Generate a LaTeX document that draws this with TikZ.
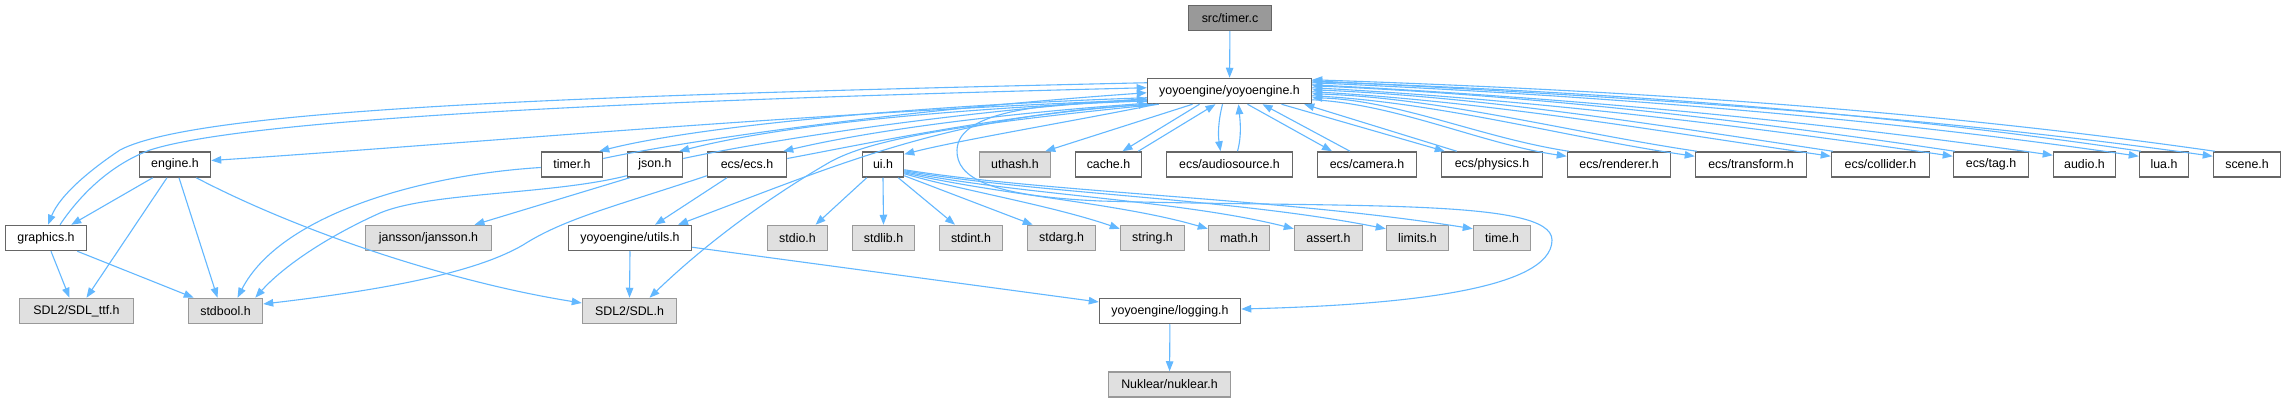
\documentclass[tikz,border=0pt]{standalone}
\usepackage{fontspec}
\setmainfont{Liberation Sans}
\usetikzlibrary{arrows.meta,calc}
\definecolor{edgec}{HTML}{63B8FF}
\definecolor{boxc}{HTML}{666666}
\definecolor{extb}{HTML}{999999}
\definecolor{extf}{HTML}{E0E0E0}
\definecolor{rootf}{HTML}{999999}
\begin{document}
\begin{tikzpicture}[x=1pt,y=-1pt,
  box/.style={draw=boxc, fill=white, line width=1.5pt, minimum height=25pt, inner sep=0pt, font=\fontsize{12.4pt}{14pt}\selectfont},
  ext/.style={box, draw=extb, fill=extf},
  root/.style={box, draw=boxc, fill=rootf},
  e/.style={draw=edgec, line width=1.1pt, -{Triangle[length=10pt,width=7.5pt]}}]
\fill[white] (0,0) rectangle (2286,403);
\useasboundingbox (0,0) rectangle (2286,403);
% row 0/1
\node[root, minimum width=83pt] (timerc) at (1230,18) {src/timer.c};
\node[box, minimum width=164pt] (yoyo) at (1229.5,91) {yoyoengine/yoyoengine.h};
% row 2
\node[box, minimum width=71pt] (engine) at (175,164.5) {engine.h};
\node[box, minimum width=61pt] (timerh) at (572,164.5) {timer.h};
\node[box, minimum width=55pt] (json) at (655,164.5) {json.h};
\node[box, minimum width=79pt] (ecs) at (747,164.5) {ecs/ecs.h};
\node[box, minimum width=41pt] (ui) at (883,164.5) {ui.h};
\node[ext, minimum width=71pt] (uthash) at (1015,164.5) {uthash.h};
\node[box, minimum width=66pt] (cache) at (1108.5,164.5) {cache.h};
\node[box, minimum width=126pt] (audiosource) at (1229.5,164.5) {ecs/audiosource.h};
\node[box, minimum width=99pt] (camera) at (1367,164.5) {ecs/camera.h};
\node[box, minimum width=101pt] (physics) at (1492,164.5) {ecs/physics.h};
\node[box, minimum width=103pt] (renderer) at (1619,164.5) {ecs/renderer.h};
\node[box, minimum width=111pt] (transform) at (1751,164.5) {ecs/transform.h};
\node[box, minimum width=98pt] (collider) at (1880.5,164.5) {ecs/collider.h};
\node[box, minimum width=75pt] (tag) at (1991,164.5) {ecs/tag.h};
\node[box, minimum width=62pt] (audio) at (2084.5,164.5) {audio.h};
\node[box, minimum width=49pt] (lua) at (2164,164.5) {lua.h};
\node[box, minimum width=67pt] (scene) at (2247,164.5) {scene.h};
% row 3
\node[box, minimum width=81pt] (graphics) at (46,238) {graphics.h};
\node[ext, minimum width=126pt] (jansson) at (428.5,238) {jansson/jansson.h};
\node[box, minimum width=123pt] (utils) at (630,238) {yoyoengine/utils.h};
\node[ext, minimum width=60pt] (stdio) at (797.5,238) {stdio.h};
\node[ext, minimum width=62pt] (stdlib) at (883.5,238) {stdlib.h};
\node[ext, minimum width=63pt] (stdint) at (971,238) {stdint.h};
\node[ext, minimum width=68pt] (stdarg) at (1061.5,238) {stdarg.h};
\node[ext, minimum width=64pt] (string) at (1152.5,238) {string.h};
\node[ext, minimum width=61pt] (math) at (1239,238) {math.h};
\node[ext, minimum width=68pt] (assert) at (1328.5,238) {assert.h};
\node[ext, minimum width=62pt] (limits) at (1417.5,238) {limits.h};
\node[ext, minimum width=57pt] (time) at (1502,238) {time.h};
% row 4
\node[ext, minimum width=114pt] (sdlttf) at (76.5,311) {SDL2/SDL\_ttf.h};
\node[ext, minimum width=74pt] (stdbool) at (225.5,311) {stdbool.h};
\node[ext, minimum width=94pt] (sdl) at (629.5,311) {SDL2/SDL.h};
\node[box, minimum width=141pt] (logging) at (1170,311) {yoyoengine/logging.h};
% row 5
\node[ext, minimum width=122pt] (nuklear) at (1169.5,384.5) {Nuklear/nuklear.h};

% ---- edges ----
\draw[e] (timerc) -- (yoyo);
% left side
\draw[e] ($(yoyo.north west)+(0,5)$) .. controls (600,95) and (200,108) .. (120,150) .. controls (90,170) and (60,195) .. ($(graphics.north)+(2,0)$);
\draw[e] ($(graphics.north)+(14,0)$) .. controls (80,195) and (110,165) .. (150,150) .. controls (250,118) and (650,100) .. ($(yoyo.north west)+(0,10)$);
\draw[e] ($(yoyo.north west)+(0,22)$) .. controls (800,113) and (450,145) .. ($(engine.east)+(0,-4)$);
\draw[e] ($(yoyo.north west)+(0,20)$) .. controls (900,106) and (690,128) .. ($(timerh.north east)+(-4,0)$);
\draw[e] ($(timerh.east)+(0,-6)$) .. controls (690,140) and (900,110) .. ($(yoyo.north west)+(0,15)$);
\draw[e] ($(yoyo.north west)+(0,23)$) .. controls (920,110) and (770,128) .. ($(json.north east)+(-4,0)$);
\draw[e] ($(json.east)+(0,-6)$) .. controls (770,140) and (950,112) .. ($(yoyo.north west)+(0,21)$);
\draw[e] ($(yoyo.south west)+(0,-1)$) .. controls (980,115) and (860,133) .. ($(ecs.north east)+(-4,0)$);
\draw[e] ($(ecs.east)+(0,-6)$) .. controls (860,145) and (1000,115) .. ($(yoyo.south west)+(2,0)$);
\draw[e] ($(yoyo.south west)+(10,0)$) .. controls (1080,120) and (960,140) .. ($(ui.north east)+(0,3)$);
\draw[e] ($(yoyo.south west)+(6,0)$) .. controls (950,115) and (850,160) .. ($(utils.north)+(48,0)$);
\draw[e] ($(yoyo.south west)+(12,0)$) .. controls (950,125) and (870,140) .. (830,162) .. controls (790,185) and (720,230) .. ($(sdl.north)+(20,0)$);
\draw[e] ($(yoyo.south west)+(0,-3)$) .. controls (1050,102) and (958,110) .. (957,150) .. controls (956,178) and (990,196) .. (1100,201) .. controls (1350,208) and (1552,198) .. (1552,240) .. controls (1552,290) and (1400,305) .. ($(logging.east)+(0,-2)$);
% bottom side
\draw[e] ($(yoyo.south)+(-37,0)$) -- ($(uthash.north east)+(-6,0)$);
\draw[e] ($(yoyo.south)+(-30,0)$) -- ($(cache.north)+(14,0)$);
\draw[e] ($(cache.north east)+(-4,0)$) -- ($(yoyo.south)+(-14,0)$);
\draw[e] ($(yoyo.south)+(-7,0)$) .. controls (1218,122) and (1218,135) .. ($(audiosource.north)+(-9,0)$);
\draw[e] ($(audiosource.north)+(8,0)$) .. controls (1242,135) and (1240,120) .. ($(yoyo.south)+(9,0)$);
\draw[e] ($(yoyo.south)+(18,0)$) -- ($(camera.north)+(-35,0)$);
\draw[e] ($(camera.north)+(-17,0)$) -- ($(yoyo.south)+(33,0)$);
\draw[e] ($(yoyo.south)+(52,0)$) -- ($(physics.north west)+(4,0)$);
\draw[e] ($(physics.north west)+(16,0)$) -- ($(yoyo.south east)+(-8,0)$);
% right side
\draw[e] ($(yoyo.north east)+(0,22)$) .. controls (1397,104) and (1482,144) .. ($(renderer.north west)+(0,5)$);
\draw[e] ($(renderer.north west)+(2,0)$) .. controls (1482,138) and (1397,100) .. ($(yoyo.north east)+(0,20)$);
\draw[e] ($(yoyo.north east)+(0,18)$) .. controls (1440,102) and (1568,138) .. ($(transform.north west)+(0,5)$);
\draw[e] ($(transform.north west)+(2,0)$) .. controls (1568,132) and (1440,98) .. ($(yoyo.north east)+(0,16)$);
\draw[e] ($(yoyo.north east)+(0,14)$) .. controls (1485,101) and (1658,131) .. ($(collider.north west)+(0,5)$);
\draw[e] ($(collider.north west)+(2,0)$) .. controls (1658,125) and (1485,97) .. ($(yoyo.north east)+(0,12)$);
\draw[e] ($(yoyo.north east)+(0,10)$) .. controls (1526,99) and (1739,125) .. ($(tag.north west)+(0,5)$);
\draw[e] ($(tag.north west)+(2,0)$) .. controls (1739,119) and (1526,95) .. ($(yoyo.north east)+(0,8)$);
\draw[e] ($(yoyo.north east)+(0,7)$) .. controls (1559,97) and (1806,120) .. ($(audio.north west)+(0,4)$);
\draw[e] ($(yoyo.north east)+(0,5)$) .. controls (1588,95) and (1863,116) .. ($(lua.north west)+(0,5)$);
\draw[e] ($(lua.north west)+(2,0)$) .. controls (1863,110) and (1588,91) .. ($(yoyo.north east)+(0,4)$);
\draw[e] ($(yoyo.north east)+(0,3)$) .. controls (1612,96) and (1913,114) .. ($(scene.north west)+(0,5)$);
\draw[e] ($(scene.north west)+(2,0)$) .. controls (1913,108) and (1612,90) .. ($(yoyo.north east)+(0,2)$);
% engine / graphics
\draw[e] ($(engine.south west)+(14,0)$) -- ($(graphics.north east)+(-16,0)$);
\draw[e] ($(engine.south)+(-8,0)$) -- ($(sdlttf.north)+(10,0)$);
\draw[e] ($(engine.south)+(4,0)$) -- ($(stdbool.north)+(-8,0)$);
\draw[e] ($(engine.south east)+(-15,0)$) .. controls (300,232) and (450,282) .. ($(sdl.west)+(0,-8)$);
\draw[e] ($(graphics.south)+(5,0)$) -- ($(sdlttf.north)+(-7,0)$);
\draw[e] ($(graphics.south east)+(-10,0)$) -- ($(stdbool.north west)+(6,0)$);
% timer/json/ecs
\draw[e] ($(timerh.west)+(0,3)$) .. controls (420,175) and (280,215) .. ($(stdbool.north)+(12,0)$);
\draw[e] ($(json.south west)+(0,-2)$) .. controls (550,195) and (430,192) .. (380,213) .. controls (320,240) and (280,270) .. ($(stdbool.north east)+(-8,0)$);
\draw[e] ($(json.south west)+(3,0)$) -- ($(jansson.north)+(46,0)$);
\draw[e] ($(ecs.south west)+(0,-2)$) .. controls (620,205) and (565,218) .. (523,245) .. controls (480,270) and (400,288) .. ($(stdbool.east)+(0,-7)$);
\draw[e] ($(ecs.south)+(-20,0)$) -- ($(utils.north)+(25,0)$);
\draw[e] (utils.south) -- (sdl.north);
\draw[e] ($(utils.south east)+(0,-4)$) -- ($(logging.west)+(0,-9)$);
% ui fan
\draw[e] ($(ui.south west)+(5,0)$) -- ($(stdio.north)+(18,0)$);
\draw[e] (ui.south) -- (stdlib.north);
\draw[e] ($(ui.south east)+(-6,0)$) -- ($(stdint.north)+(-16,0)$);
\draw[e] ($(ui.south east)+(0,-2)$) -- ($(stdarg.north west)+(6,0)$);
\draw[e] ($(ui.south east)+(0,-4)$) .. controls (960,190) and (1050,205) .. ($(string.north west)+(0,4)$);
\draw[e] ($(ui.south east)+(0,-5)$) .. controls (1000,195) and (1120,203) .. ($(math.north west)+(0,4)$);
\draw[e] ($(ui.south east)+(0,-6)$) .. controls (1020,195) and (1180,200) .. ($(assert.north west)+(0,4)$);
\draw[e] ($(ui.south east)+(0,-7)$) .. controls (1040,194) and (1230,198) .. ($(limits.north west)+(0,4)$);
\draw[e] ($(ui.south east)+(0,-8)$) .. controls (1050,193) and (1280,198) .. ($(time.north west)+(0,4)$);
\draw[e] (logging) -- (nuklear);
\end{tikzpicture}
\end{document}
